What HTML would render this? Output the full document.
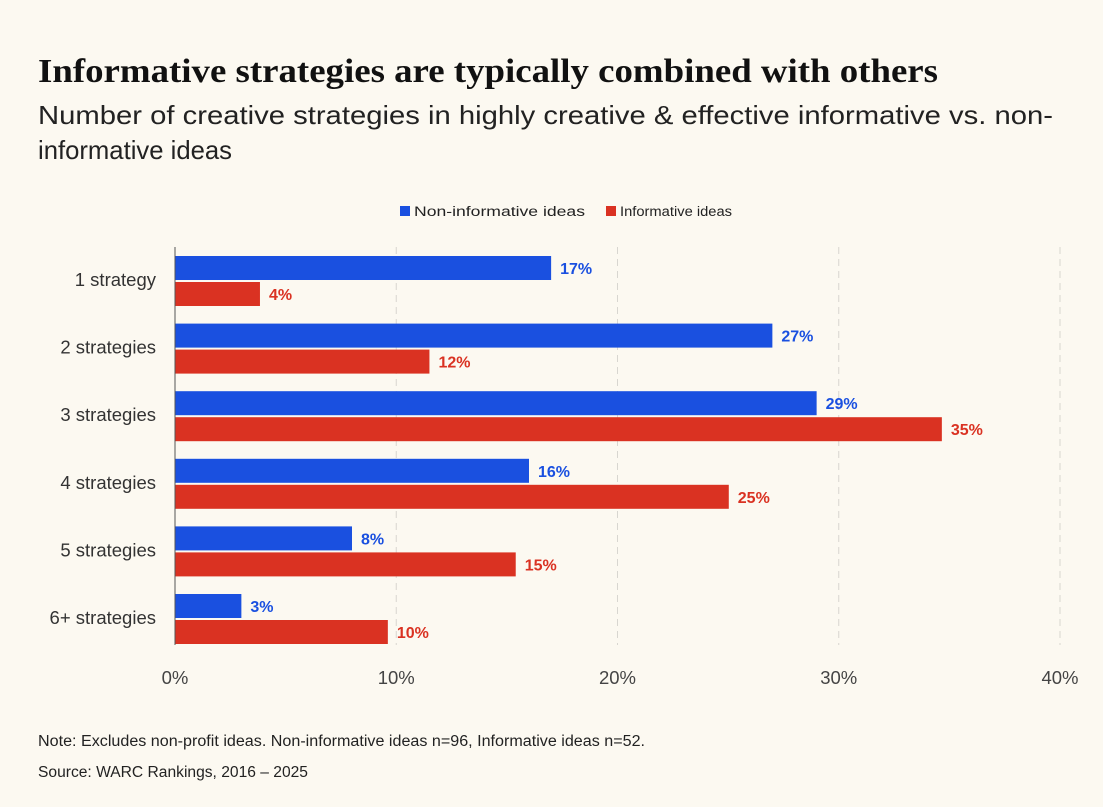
<!DOCTYPE html>
<html><head><meta charset="utf-8"><style>
body{margin:0;background:#fcf9f1;width:1103px;height:807px;overflow:hidden;font-family:"Liberation Sans",sans-serif;}
svg{position:absolute;left:0;top:0}
</style></head><body>
<svg width="1103" height="807">
<text x="38" y="82" font-family="Liberation Serif" font-weight="bold" font-size="34" fill="#111" textLength="900" lengthAdjust="spacingAndGlyphs">Informative strategies are typically combined with others</text>
<text x="38" y="124" font-size="26" fill="#222" textLength="1015" lengthAdjust="spacingAndGlyphs">Number of creative strategies in highly creative &amp; effective informative vs. non-</text>
<text x="38" y="159" font-size="26" fill="#222" textLength="194" lengthAdjust="spacingAndGlyphs">informative ideas</text>
<g>
<rect x="400" y="206" width="10" height="10" fill="#1a50e0"/>
<text x="414" y="216" font-size="13.5" fill="#222" textLength="171" lengthAdjust="spacingAndGlyphs">Non-informative ideas</text>
<rect x="606" y="206" width="10" height="10" fill="#da3222"/>
<text x="620" y="216" font-size="13.5" fill="#222" textLength="112" lengthAdjust="spacingAndGlyphs">Informative ideas</text>
</g>
<g id="plot"></g>
<text x="38" y="746" font-size="15.5" fill="#222" textLength="607" lengthAdjust="spacingAndGlyphs">Note: Excludes non-profit ideas. Non-informative ideas n=96, Informative ideas n=52.</text>
<text x="38" y="777" font-size="15.5" fill="#222" textLength="270" lengthAdjust="spacingAndGlyphs">Source: WARC Rankings, 2016 – 2025</text>
</svg>
<script>
const categories=["1 strategy","2 strategies","3 strategies","4 strategies","5 strategies","6+ strategies"];
const nonInformative=[17,27,29,16,8,3];
const informative=[3.84,11.5,34.66,25.03,15.4,9.62];
const xTicks=[0,10,20,30,40];
const NS="http://www.w3.org/2000/svg";
const plotG=document.getElementById('plot');
const X0=175,X1=1060,plotTop=247,plotBottom=645;
const xs=v=>X0+(v/40)*(X1-X0);
const step=67.6, firstY=256, bh=24;
function mk(t,a){const e=document.createElementNS(NS,t);for(const k in a)e.setAttribute(k,a[k]);plotG.appendChild(e);return e;}
xTicks.forEach(t=>{
 if(t>0){const l=mk('line',{x1:xs(t),x2:xs(t),y1:plotTop,y2:plotBottom,stroke:'#d8d6d0','stroke-dasharray':'7,5','stroke-width':1});
 
 }
 const tx=mk('text',{x:xs(t),y:684,'text-anchor':'middle','font-size':18.5,fill:'#444'});tx.textContent=t+'%';
 
 
});
categories.forEach((c,i)=>{
 const y=firstY+i*step;
 const lab=mk('text',{x:156,y:y+30,'text-anchor':'end','font-size':18.5,fill:'#333'});lab.textContent=c;
 
 
 [[nonInformative[i],'#1a50e0',y,'bar-non-informative'],[informative[i],'#da3222',y+26,'bar-informative']].forEach(([v,col,yy,nm])=>{
  const r=mk('rect',{x:X0,y:yy,width:xs(v)-X0,height:bh,fill:col});
  
  
  const t=mk('text',{x:xs(v)+9,y:yy+18,'font-size':16,'font-weight':'bold',fill:col});t.textContent=Math.round(v)+'%';
  
  
 });
});
const ax=mk('line',{x1:X0,x2:X0,y1:plotTop,y2:plotBottom,stroke:'#555','stroke-width':1});


</script>
</body></html>
